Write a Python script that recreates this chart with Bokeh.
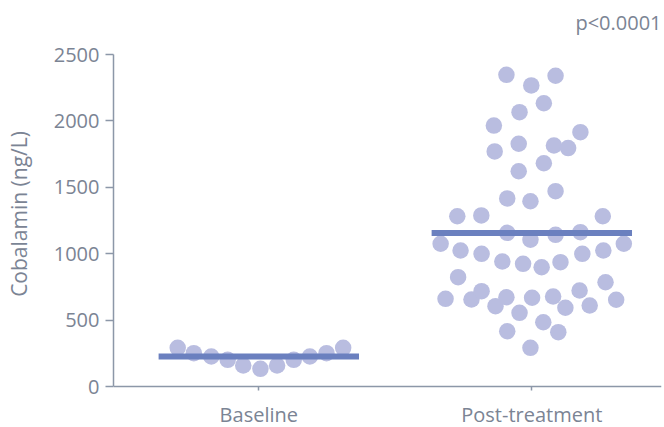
from bokeh.plotting import figure
from bokeh.models import Range1d, FixedTicker, Label
from bokeh.embed import file_html
from bokeh.resources import INLINE

# Cobalamin (ng/L) per patient, with horizontal swarm offsets (in category widths)
categories = ["Baseline", "Post-treatment"]

baseline_values = [291, 251, 226, 201, 158, 133, 158, 201, 226, 251, 291]
baseline_offsets = [-0.297, -0.238, -0.174, -0.114, -0.057, 0.006, 0.067, 0.128, 0.187, 0.248, 0.309]

post_values = [
    2347, 2267, 2340, 2133, 2066, 1965, 1915, 1770, 1828, 1815, 1795, 1621, 1681,
    1416, 1395, 1471, 1282, 1288, 1282, 1157, 1105, 1142, 1162,
    1075, 1024, 999, 941, 924, 898, 936, 999, 1024, 1075,
    823, 785,
    660, 655, 718, 605, 672, 555, 668, 484, 678, 593, 723, 610, 653,
    416, 409, 291,
]
post_offsets = [
    -0.093, -0.002, 0.087, 0.044, -0.045, -0.139, 0.178, -0.136, -0.048, 0.081, 0.133, -0.048, 0.044,
    -0.090, -0.005, 0.087, -0.273, -0.185, 0.260, -0.090, -0.005, 0.087, 0.178,
    -0.334, -0.261, -0.184, -0.108, -0.032, 0.036, 0.105, 0.185, 0.262, 0.337,
    -0.270, 0.270,
    -0.316, -0.221, -0.184, -0.133, -0.093, -0.045, 0.001, 0.042, 0.078, 0.123, 0.175, 0.212, 0.309,
    -0.090, 0.097, -0.005,
]

medians = [226, 1156]
y_ticks = [0, 500, 1000, 1500, 2000, 2500]
y_max = 2500
p_text = "p<0.0001"

FONT = "Open Sans"
TEXT = "#7b8494"
AXIS = "#8c97a8"
DOT = "#b9bde0"
MEDIAN = "#6b80bf"

# The frame fills the canvas vertically; the axes are pinned at y=0 and
# bounded to 0..y_max, leaving room above for the p-value and below for labels.
W, H = 664, 427
AXIS_TOP, AXIS_BOTTOM = 54, 386          # pixel rows of y=y_max and y=0
ppu = (AXIS_BOTTOM - AXIS_TOP) / y_max   # pixels per ng/L
y_start = -(H - AXIS_BOTTOM) / ppu
y_end = y_max + AXIS_TOP / ppu

p = figure(
    width=W, height=H,
    x_range=Range1d(0.4678, 2.475), y_range=Range1d(y_start, y_end),
    output_backend="svg", toolbar_location=None,
    min_border_left=113, min_border_right=3, min_border_top=0, min_border_bottom=0,
)
p.outline_line_color = None
p.xgrid.visible = False
p.ygrid.visible = False
p.background_fill_color = "white"
p.border_fill_color = "white"

# swarm points
p.scatter([1 + o for o in baseline_offsets], baseline_values, size=16.5,
          fill_color=DOT, line_color=None)
p.scatter([2 + o for o in post_offsets], post_values, size=16.5,
          fill_color=DOT, line_color=None)

# median bars
half = 0.367
for i, m in enumerate(medians):
    c = i + 1
    p.segment(x0=[c - half], y0=[m], x1=[c + half], y1=[m], line_color=MEDIAN, line_width=6)

# significance annotation, top right
p.add_layout(Label(x=p.x_range.end, y=y_max + (AXIS_TOP - 22) / ppu, text=p_text,
                   text_align="right", text_baseline="middle",
                   text_font=FONT, text_font_size="20px", text_color=TEXT))

# y axis
ya = p.yaxis[0]
ya.ticker = FixedTicker(ticks=y_ticks)
ya.bounds = (0, y_max)
ya.axis_label = "Cobalamin (ng/L)"
ya.axis_label_text_font = FONT
ya.axis_label_text_font_style = "normal"
ya.axis_label_text_font_size = "21px"
ya.axis_label_text_color = TEXT
ya.axis_label_standoff = 18
ya.major_label_text_font = FONT
ya.major_label_text_font_size = "20px"
ya.major_label_text_color = TEXT
ya.major_label_standoff = 6
ya.axis_line_color = AXIS
ya.axis_line_width = 1.5
ya.major_tick_line_color = AXIS
ya.major_tick_line_width = 1.5
ya.major_tick_out = 8
ya.major_tick_in = 0
ya.minor_tick_line_color = None

# x axis with category labels, pinned at y=0
xa = p.xaxis[0]
xa.fixed_location = 0
xa.ticker = FixedTicker(ticks=[1, 2])
xa.major_label_overrides = {i + 1: c for i, c in enumerate(categories)}
xa.major_label_text_font = FONT
xa.major_label_text_font_size = "20px"
xa.major_label_text_color = TEXT
xa.major_label_standoff = 10
xa.axis_line_color = AXIS
xa.axis_line_width = 1.5
xa.major_tick_line_color = AXIS
xa.major_tick_line_width = 1.5
xa.major_tick_out = 4
xa.major_tick_in = 0
xa.minor_tick_line_color = None

open("out.html", "w").write(file_html(p, INLINE))
